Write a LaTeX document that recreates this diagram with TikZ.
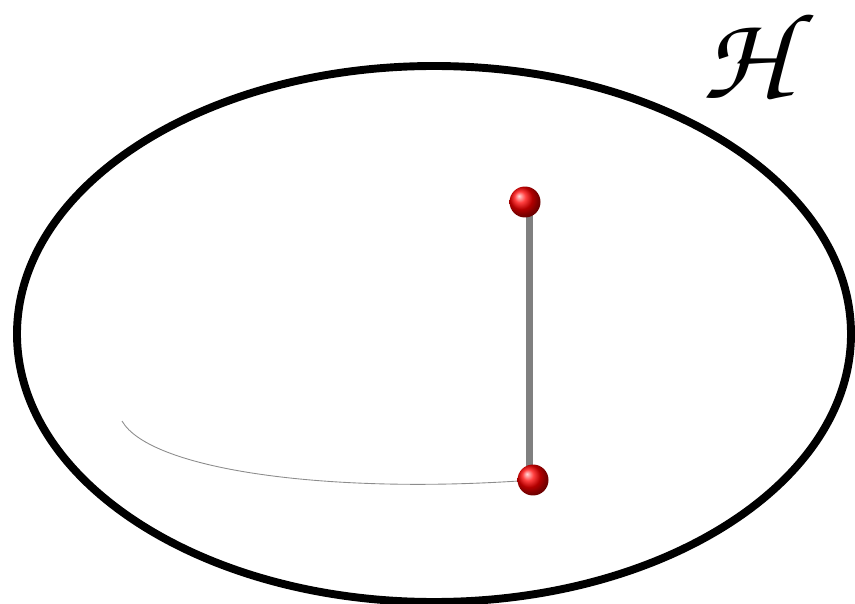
\documentclass[tikz,border=0pt]{standalone}
\usepackage[T1,TU]{fontenc}
\usepackage{tikz}
\usetikzlibrary{shadings}
\tikzset{
  space/.style={draw=black,line width=4.5pt},
  redball/.style={circle,shading=ball,ball color=red,minimum size=0.62cm,inner sep=0pt},
  link/.style={draw=black!50,line width=4pt},
  trail/.style={draw=black!45,line width=0.5pt},
  hname/.style={font=\usefont{T1}{pzc}{mb}{it}\fontsize{70}{72}\selectfont,inner sep=0pt},
}

\begin{document}
\begin{tikzpicture}[x=0.02cm,y=-0.02cm]
  \useasboundingbox (0,0) rectangle (855,604);
  \draw[space] (434,334) ellipse [x radius=417, y radius=268];
  \node[hname] (h) at (744,56) {H};

  \coordinate (top) at (525,202);
  \coordinate (bot) at (533,480);
  \coordinate (rod) at (529.5,0);
  \coordinate (start) at (122,421);

  \draw[trail] (start) .. controls (150,470) and (330,495) .. (bot);
  \draw[link] (rod |- top) -- (rod |- bot);
  \node[redball] (topball) at (top) {};
  \node[redball] (botball) at (bot) {};
\end{tikzpicture}
\end{document}
